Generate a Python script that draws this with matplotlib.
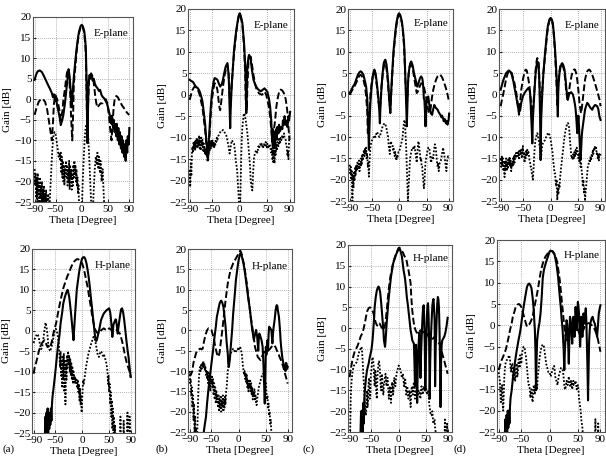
import numpy as np
import matplotlib
matplotlib.use("Agg")
import matplotlib.pyplot as plt

nan = float("nan")

# ---------------- data: (theta [deg], gain [dB]) ----------------
# solid = simulated co-pol, dashed = measured co-pol, dotted = cross-pol
a_e_solid = [(-90,4.7),(-87,6),(-84,6.8),(-80,7),(-76,6.6),(-72,5.6),(-68,4.5),(-64,3.4),(-60,2.4),(-57,1.5),(-55,0.5),(-53,1.2),(-51,-0.5),(-49,0.3),(-47,-1.5),(-45,-2.6),(-42,-4.5),(-40,-6.3),(-37,-5),(-35,-3.8),(-32,-1),(-30,1.4),(-27,5),(-25,7.3),(-23,5.5),(-21,2),(-20,-0.5),(-19,-2),(-17,2),(-15,5.5),(-12,9.5),(-10,12),(-7,15),(-5,16.5),(-2,17.8),(0,18.1),(2,17.8),(5,16.5),(7,14),(8,12),(9,6),(10,-2),(11,-10.5),(12,-3),(13,3.9),(15,5.9),(17,5),(19,5.8),(21,4.5),(23,5),(25,3.9),(27,3.2),(30,2.7),(33,2),(35,2.3),(38,1),(40,0.6),(43,0.2),(45,-0.2),(48,-1),(50,-1.8),(53,-3.5),(55,-4.5),(57,-6),(58,-4),(60,-7),(61,-5),(63,-8),(64,-6),(66,-9),(67,-6),(69,-10),(70,-7),(72,-11),(73,-8),(75,-12),(76,-9),(78,-13),(79,-10),(81,-14),(82,-11),(84,-15),(85,-10),(87,-13),(88,-9),(90,-11),(91,-7)]
a_e_dashed = [(-90,-3.8),(-86,-2),(-82,-0.6),(-78,0),(-74,0),(-70,-0.6),(-66,-2.5),(-63,-5),(-60,-7.5),(-57,-10),(-55,-6),(-53,-1),(-50,1),(-47,0),(-45,-1),(-42,-3),(-40,-5),(-37,-3),(-35,-0.2),(-32,2.5),(-30,4.7),(-28,6.5),(-26,7.1),(-24,5.5),(-22,1.4),(-20,-5),(-18,-10),(-16,-2),(-15,3.9),(-12,8),(-10,11.2),(-7,14.5),(-5,16.1),(-2,17.6),(0,17.9),(2,17.6),(5,16.1),(7,13),(8,10.4),(9,4),(10,-4),(11,-10.7),(12,-2),(14,4.7),(16,5.8),(18,6.3),(20,5.8),(22,5.1),(24,3),(26,0.6),(28,-1),(30,-2),(33,-1.5),(36,-1),(40,-1),(43,-0.5),(46,0),(49,-1),(52,-4),(55,-8),(57,-10),(59,-6),(61,-2),(63,0),(66,0.8),(69,0.5),(73,-0.5),(77,-1.5),(81,-2.2),(85,-3),(88,-3.5),(91,-3.8)]
a_e_dotted = [(-90,-17),(-89,-21),(-88,-18),(-87,-24),(-86,-19),(-85,-26),(-84,-18),(-83,-23),(-82,-20),(-81,-27),(-80,-19),(-79,-24),(-78,-21),(-77,-28),(-76,-20),(-75,-25),(-74,-22),(-73,-28),(-72,-21),(-71,-26),(-70,-23),(-69,-28),(-68,-22),(-67,-27),(-66,-24),(-65,-28),(-64,-23),(-63,-27),(-62,-28),(-61,-25),(-60,-22),(-58,-17),(-56,-12),(-54,-9),(-52,-8),(-50,-8.5),(-48,-10),(-46,-12),(-44,-14),(-42,-13),(-41,-15),(-40,-13),(-39,-18),(-38,-14),(-37,-19),(-36,-15),(-35,-20),(-34,-16),(-33,-21),(-32,-17),(-31,-18),(-30,-15),(-29,-19),(-28,-16),(-27,-21),(-26,-17),(-25,-20),(-24,-15),(-23,-22),(-22,-16),(-21,-19),(-20,-17),(-19,-22),(-18,-18),(-17,-21),(-16,-16),(-15,-19),(-14,-15),(-13,-18),(-12,-16),(-11,-20),(-10,-17),(-9,-21),(-8,-19),(-7,-23),(-6,-21),(-5,-26),(-4,-30),(0,-28),(2,-20),(4,-14),(6,-9),(8,-6.5),(10,-6),(12,-8),(14,-13),(16,-19),(18,-25),(19,-30),(21,-28),(23,-22),(25,-17),(27,-14),(29,-16),(30,-13),(32,-17),(33,-14),(35,-18),(36,-15),(38,-20),(40,-17),(42,-23),(44,-28),(46,-30)]

b_e_solid = [(-90,3.5),(-87,3.2),(-84,3),(-81,2.3),(-78,1.8),(-75,1.5),(-72,0.8),(-70,0),(-67,-1.5),(-65,-3.6),(-62,-7),(-60,-10.6),(-58,-13),(-57,-15.3),(-56,-12),(-54,-7.5),(-52,-3),(-50,0.3),(-47,3),(-45,3.9),(-42,3.7),(-40,3.5),(-37,2.5),(-35,1.9),(-32,2.5),(-30,3.5),(-27,5.5),(-25,6.6),(-22,7.4),(-20,5),(-19,1.9),(-18,-3),(-17,-7.8),(-16,-3),(-14,2.7),(-12,6.5),(-10,10.5),(-7,14),(-5,15.9),(-2,18.3),(0,19),(2,18.5),(5,16.7),(8,12),(10,7),(11,3.5),(12,-4.3),(13,1),(14,6.6),(16,8.8),(17,9.3),(19,8.8),(20,8.1),(22,6),(25,3.5),(28,2.4),(30,1.9),(33,1.3),(35,1.1),(38,0.8),(40,1),(43,1.3),(45,1.5),(48,1),(50,0.7),(53,-1),(55,-2.8),(57,-6),(58,-9),(59,-11),(60,-8),(61,-12.5),(62,-10),(63,-12),(64,-8.5),(65,-10),(66,-8),(67,-10.5),(68,-7.5),(70,-9),(71,-7),(73,-8.5),(75,-7.5),(77,-8),(78,-6),(80,-7),(81,-5),(83,-7),(85,-6),(86,-7.5),(88,-5),(89,-6),(91,-4)]
b_e_dashed = [(-90,-1.2),(-87,0.3),(-85,1.1),(-82,1.8),(-80,1.9),(-77,1.6),(-75,1.1),(-72,0),(-70,-1.2),(-67,-3),(-65,-5.1),(-62,-8.5),(-60,-11.4),(-58,-13.5),(-57,-14.5),(-55,-11.5),(-54,-9),(-52,-4.5),(-50,-1.2),(-47,1.5),(-45,2.7),(-42,2.2),(-40,1.1),(-38,-1.2),(-36,-3.2),(-35,-3.6),(-33,-1.5),(-30,1.9),(-27,4.5),(-25,5.8),(-23,6.8),(-22,7),(-20,5),(-19,2.7),(-18,-0.5),(-17,-3.6),(-16,-0.5),(-14,2.7),(-12,6.5),(-10,9.7),(-7,13.5),(-5,15.6),(-2,18),(0,18.7),(2,18.2),(5,16.3),(8,11.3),(10,5),(11,-1.2),(13,-3.6),(14,2),(16,7.8),(18,8.6),(20,8.9),(22,7.3),(25,4.6),(28,2.5),(30,1.5),(35,0.3),(40,0),(43,0.3),(45,0.7),(48,0),(50,-1.2),(53,-3),(55,-5.1),(57,-8),(59,-11),(60,-13.7),(61,-11),(62,-8),(64,-5.9),(66,-3),(68,-1.2),(70,0),(72,1),(74,1.2),(76,1.1),(78,0.8),(80,0.3),(83,-1),(85,-2.8),(87,-5),(88,-7.5),(90,-10.6)]
b_e_dotted = [(-90,-17.6),(-89,-21.5),(-88,-16),(-87,-19),(-86,-14),(-85,-12.1),(-84,-13.5),(-83,-11),(-82,-12.5),(-81,-11),(-80,-13),(-79,-10.5),(-78,-12),(-77,-10),(-76,-12.5),(-75,-10.6),(-74,-12),(-73,-9.5),(-72,-12.5),(-71,-10),(-70,-13),(-69,-10),(-68,-12),(-67,-10.5),(-66,-13),(-65,-11),(-64,-13.5),(-63,-12),(-62,-14),(-61,-12.5),(-60,-14),(-59,-13),(-58,-15.3),(-57,-12.5),(-56,-14),(-55,-12),(-54,-13),(-53,-11),(-52,-12.5),(-51,-10.6),(-50,-12),(-49,-10.5),(-48,-12),(-47,-11),(-46,-12.5),(-45,-11.4),(-44,-12),(-43,-10.5),(-42,-11),(-41,-10),(-40,-10.5),(-38,-9.5),(-36,-9),(-34,-8.5),(-32,-8.5),(-30,-8.2),(-28,-8.6),(-26,-9),(-24,-9.5),(-22,-10.6),(-20,-12),(-18,-13.7),(-16,-12),(-14,-10.6),(-12,-11),(-10,-11.4),(-8,-13.5),(-7,-15.3),(-5,-17),(-4,-18.4),(-3,-21),(-2,-23),(-1,-26),(0,-30),(1,-26),(2,-20),(3,-14),(4,-10),(5,-7.5),(7,-5),(8,-4.3),(9,-4.5),(11,-5.9),(13,-8),(14,-9),(16,-12),(17,-13.7),(19,-17),(20,-20),(22,-22),(23,-22.3),(24,-19),(26,-14.5),(28,-13.5),(30,-12.9),(32,-13.5),(34,-12),(35,-12.5),(37,-11.5),(39,-12),(40,-11.4),(42,-12.5),(44,-11.5),(45,-12.1),(47,-11),(49,-12.5),(50,-11.4),(52,-12.5),(54,-11.5),(55,-12.1),(57,-13.5),(58,-12.5),(59,-15),(60,-14.5),(61,-16),(62,-13),(63,-16),(64,-12),(65,-14),(66,-11.5),(67,-13),(68,-11),(70,-12),(71,-10),(72,-11.5),(74,-10),(75,-10.6),(77,-9.5),(78,-10),(80,-9),(81,-10),(83,-10.5),(84,-12),(85,-12.1),(86,-14),(87,-13),(88,-15),(89,-11),(90,-9)]

c_e_solid = [(-90,0.3),(-87,1),(-84,1.8),(-81,2.4),(-78,3.5),(-75,4.6),(-72,5.2),(-70,5.4),(-68,5.2),(-65,4.6),(-62,3),(-60,1.8),(-58,-1),(-57,-4.4),(-56,-8),(-55,-13),(-54,-8),(-53,-4),(-52,-1.5),(-50,2),(-48,4.2),(-46,5.5),(-45,5.8),(-43,5),(-42,4.2),(-40,2),(-38,-0.5),(-36,-4),(-35,-6.8),(-34,-3),(-32,1.8),(-30,5),(-28,7.3),(-26,8),(-25,8.1),(-23,7),(-22,5.8),(-20,3),(-18,-1.3),(-17,-3),(-16,-4.4),(-15,-1),(-13,4.2),(-11,8.5),(-10,10.5),(-7,14.5),(-5,16.7),(-2,18.6),(0,19),(2,18.6),(5,17.1),(7,15),(9,12),(10,9),(11,5),(12,1.1),(13,-3),(14,-7.5),(15,-3),(16,1.8),(17,4.5),(19,6.5),(20,7.2),(22,7.7),(24,7),(25,6.5),(27,5),(30,3.4),(32,2.3),(33,1.8),(35,2.5),(36,3),(38,3.8),(40,4.2),(42,3.8),(43,3),(44,1.5),(45,-1),(46,-1.3),(47,-4),(48,-7.5),(49,-4),(50,-1.3),(52,-0.8),(53,-0.5),(54,-1.5),(55,-2.5),(56,-3.6),(58,-4.5),(60,-4.8),(62,-3.5),(64,-2.5),(65,-2.8),(67,-3.2),(70,-3.6),(72,-4.2),(75,-4.8),(77,-5.4),(78,-5),(80,-5.6),(81,-6.3),(83,-5.8),(85,-6.8),(86,-6.2),(88,-7.1),(89,-6.5),(90,-6),(91,-4.5)]
c_e_dashed = [(-90,-0.1),(-87,0.6),(-85,1.1),(-82,1.6),(-80,2.2),(-77,3),(-75,3.8),(-72,4.4),(-70,4.6),(-68,4.3),(-65,3.4),(-62,1.8),(-60,-0.5),(-58,-4),(-57,-9.1),(-56,-8),(-55,-6),(-53,-2),(-52,0.3),(-50,2.5),(-48,4.2),(-46,5.2),(-45,5.4),(-43,4.5),(-42,3.4),(-40,1.5),(-38,-1.3),(-36,-3),(-35,-3.6),(-34,-2),(-32,1.8),(-30,4.5),(-28,6.5),(-26,7.2),(-25,7.3),(-23,6),(-22,5),(-20,2),(-18,-1.3),(-16,-3.6),(-15,-1),(-13,3.4),(-11,7.5),(-10,9.7),(-7,13.8),(-5,16),(-2,18.2),(0,18.7),(2,18.3),(5,16.7),(7,14.5),(9,11.2),(10,8),(11,5),(12,1.8),(13,-0.5),(14,-2.9),(15,-0.5),(16,2.6),(18,5.5),(20,6.9),(22,6.9),(24,6.5),(26,5),(28,3.4),(30,1.8),(32,0.3),(34,0.6),(35,1.1),(38,2),(40,2.6),(43,2.4),(45,1.8),(48,0),(50,-1.3),(52,-3),(54,-4.4),(56,-4),(57,-3.6),(59,-1.5),(60,-0.5),(62,1),(65,2.6),(68,3.7),(70,4.2),(73,4.5),(75,4.6),(78,4),(80,3.4),(83,2.3),(85,1.5),(88,0),(90,-1.3)]
c_e_dotted = [(-90,-16.5),(-89,-18.5),(-88,-17),(-87,-20),(-86,-18),(-85,-25),(-84,-19),(-83,-22),(-82,-18),(-81,-20),(-80,-17),(-79,-19),(-78,-16.5),(-77,-18),(-76,-16),(-75,-16.3),(-74,-17.5),(-73,-15.5),(-72,-18),(-71,-16),(-70,-17),(-69,-15),(-68,-16.5),(-67,-14),(-66,-15.5),(-65,-14),(-64,-13),(-63,-14.5),(-62,-12.5),(-61,-14),(-60,-12.5),(-59,-15),(-58,-14),(-57,-17),(-56,-16),(-55,-19.3),(-54,-16),(-53,-14),(-52,-12),(-50,-11),(-48,-10.4),(-46,-10),(-45,-9.6),(-43,-10),(-41,-9),(-40,-8.8),(-38,-9.5),(-36,-10),(-35,-9.8),(-33,-9),(-31,-8),(-30,-7.5),(-28,-7),(-26,-6.8),(-25,-7),(-23,-8),(-21,-9.5),(-20,-10),(-19,-12),(-18,-13),(-17,-14),(-16,-12),(-15,-11),(-14,-11.5),(-12,-12),(-11,-13),(-10,-12.5),(-9,-14),(-8,-14.5),(-7,-13.5),(-6,-15),(-5,-15.5),(-4,-14.5),(-3,-15),(-2,-14),(-1,-13.5),(0,-13.5),(2,-12.5),(3,-12),(5,-11),(6,-10.4),(7,-9),(8,-7.5),(9,-6.5),(10,-6),(11,-7.5),(12,-10),(13,-13),(14,-17),(15,-21),(16,-25),(17,-22),(18,-20),(19,-17),(20,-15),(22,-13.5),(24,-12.5),(25,-12.5),(26,-13),(28,-12),(30,-14),(31,-15),(32,-16),(33,-14),(34,-12.5),(35,-11),(36,-11.7),(37,-13),(38,-14),(39,-15.5),(40,-15),(41,-17),(42,-17),(43,-19),(44,-20),(45,-22),(46,-21),(47,-18),(48,-16),(49,-15),(50,-14.5),(51,-13.5),(52,-13),(53,-12.5),(55,-12.5),(56,-14),(57,-15),(58,-16),(59,-15.5),(60,-14.5),(62,-15),(63,-13.5),(64,-12.5),(65,-11.7),(66,-12),(67,-13),(68,-14.5),(69,-16),(70,-17),(71,-16),(72,-18),(73,-17),(74,-16),(76,-15.5),(78,-14),(80,-12.5),(81,-13.5),(82,-14),(83,-15),(84,-16),(85,-17),(86,-18),(87,-16),(88,-15),(89,-14.5),(90,-15)]

d_e_solid = [(-90,1.1),(-87,2.5),(-85,3.4),(-82,4.4),(-80,5),(-77,5.4),(-75,5.6),(-72,5.2),(-70,4.6),(-67,3),(-65,1.5),(-62,-0.5),(-60,-2.1),(-58,-3.5),(-57,-4.1),(-55,-3.8),(-53,-2),(-50,-0.5),(-47,0.3),(-45,0.7),(-42,1.2),(-40,1.5),(-38,1),(-37,0.3),(-36,-2),(-35,-5.2),(-34,-8),(-33,-11.5),(-32,-6),(-30,-1.2),(-28,3),(-27,5),(-25,7),(-24,7.7),(-22,7.3),(-21,5),(-20,1.8),(-19,-5),(-18,-15.4),(-17,-6),(-15,0.3),(-13,5),(-10,9.7),(-7,13.8),(-5,16),(-2,17.6),(0,17.9),(2,17.6),(4,16.7),(6,14),(8,10.5),(10,6),(11,3.4),(12,-1),(13,-5.2),(14,1.8),(16,5),(18,6.5),(20,7.2),(21,7.3),(23,6.8),(25,5.8),(27,3.5),(28,1.8),(30,-0.5),(31,-1.3),(32,-0.5),(34,0.3),(35,0.3),(37,0.5),(40,0),(42,-1),(44,-2.5),(45,-3.5),(46,-5),(47,-7),(48,-9.1),(49,-7),(50,-5),(51,-7),(52,-10),(53,-12.5),(54,-15.4),(55,-13),(56,-10),(57,-8.5),(58,-7.5),(60,-5.5),(62,-3.6),(64,-2.7),(66,-2),(68,-2.3),(70,-2.8),(72,-3.2),(75,-3.6),(77,-3),(80,-2.5),(82,-2.6),(84,-2.8),(86,-3.5),(88,-5.2),(90,-6)]
d_e_dashed = [(-90,-2.8),(-88,-1.5),(-85,0.3),(-82,2.3),(-80,3.8),(-77,5),(-75,5.4),(-73,5.5),(-70,5),(-68,4),(-65,2.6),(-62,0.5),(-60,-1.3),(-58,-3.5),(-57,-4.8),(-56,-4),(-55,-2),(-53,1),(-50,3.4),(-47,5.2),(-45,5.8),(-43,5.6),(-42,5),(-40,3.5),(-38,1.8),(-36,-1),(-35,-2.8),(-34,-5),(-33,-6.8),(-32,-4),(-30,-0.5),(-28,3.5),(-27,5.8),(-25,8),(-24,8.5),(-22,7.7),(-21,6),(-20,2.6),(-19,-1.5),(-18,-5.2),(-17,-2),(-15,1.1),(-13,5),(-10,8.9),(-7,13.2),(-5,15.6),(-2,17.3),(0,17.6),(2,17.2),(4,16.3),(6,13.5),(8,9.7),(10,4.5),(11,1),(12,-2.5),(13,-1),(14,2.5),(16,5.5),(18,6.9),(20,7.2),(21,7),(23,6.3),(25,5),(27,2.5),(28,0.8),(30,-1),(31,-1.5),(33,0.5),(35,2.5),(38,4.5),(40,5.4),(42,5.8),(44,5.8),(46,5),(48,3.4),(50,1),(52,-2),(54,-3.8),(55,-4.4),(56,-3.5),(58,-1.2),(60,1.2),(62,3.4),(64,4.6),(66,5.4),(68,5.7),(70,5.8),(72,5.4),(75,4.6),(78,3.4),(80,2.6),(83,1.2),(85,0.3),(88,-1.2),(90,-2.8)]
d_e_dotted = [(-90,-15),(-89,-17),(-88,-14.6),(-87,-16.5),(-86,-15),(-85,-18),(-84,-15.5),(-83,-19.4),(-82,-16),(-81,-17.5),(-80,-15),(-79,-18),(-78,-16),(-77,-17.5),(-76,-15),(-75,-16.5),(-74,-14.6),(-73,-17),(-72,-15.5),(-71,-18),(-70,-16),(-69,-17),(-68,-15),(-67,-16.5),(-66,-14.5),(-65,-16),(-64,-14),(-63,-15),(-62,-13.7),(-61,-14.5),(-60,-13.7),(-59,-14.5),(-58,-13.5),(-57,-15),(-56,-13),(-55,-12.9),(-54,-14),(-53,-13),(-52,-15),(-51,-13.5),(-50,-12.1),(-49,-14),(-48,-13.5),(-47,-16),(-46,-14),(-45,-15),(-44,-13),(-43,-14.5),(-42,-13),(-41,-14),(-40,-13.5),(-39,-14.5),(-38,-15.5),(-37,-16),(-36,-17),(-35,-17),(-34,-18.5),(-33,-19),(-32,-20),(-31,-18),(-30,-15.4),(-29,-13),(-28,-11.5),(-27,-10.6),(-26,-10),(-25,-9.5),(-24,-9.1),(-23,-9.5),(-22,-10.5),(-21,-11),(-20,-12),(-19,-13),(-18,-14),(-17,-14.6),(-16,-13),(-15,-12),(-14,-11.5),(-12,-11),(-10,-10.7),(-8,-10),(-6,-9.5),(-5,-9.1),(-4,-9),(-2,-9.5),(0,-10.5),(1,-11.5),(2,-12.5),(3,-13),(4,-14.5),(5,-16),(6,-17),(7,-18.5),(8,-18.5),(9,-20.5),(10,-21.6),(11,-20),(12,-24.8),(13,-22),(14,-23.5),(15,-21),(16,-22),(17,-19.5),(18,-18.5),(19,-17),(20,-16),(21,-14.5),(22,-13.7),(24,-11),(26,-9.1),(28,-7.8),(30,-6.8),(31,-6.7),(32,-7),(33,-7.5),(34,-9),(35,-11),(36,-12.5),(37,-14),(38,-15),(39,-14.5),(40,-15.4),(41,-14),(42,-15),(43,-13.5),(44,-14.5),(45,-13),(46,-14),(47,-12.5),(48,-13),(49,-13.5),(50,-15),(51,-14),(52,-16),(53,-15),(54,-17),(55,-16.2),(56,-18),(57,-19),(58,-21.6),(59,-20),(60,-23),(61,-22),(62,-25),(63,-23),(64,-21.5),(65,-20),(66,-18.5),(67,-17),(68,-16.5),(69,-16),(70,-15.5),(71,-16),(72,-14.5),(73,-15.5),(74,-14),(75,-14.5),(76,-13),(77,-14),(78,-12.5),(79,-13),(80,-12.1),(81,-13),(82,-12.5),(83,-14),(84,-13.5),(85,-15),(86,-14),(87,-15.5),(88,-14),(89,-14.5),(90,-14)]

a_h_solid = [(-70,-30),(-69,-25),(-68,-21),(-67,-27),(-66,-20),(-65,-26),(-64,-19),(-63,-25),(-62,-20),(-61,-24),(-60,-21),(-59,-23),(-58,-19),(-57,-22),(-56,-18),(-55,-16.2),(-53,-14),(-50,-10.5),(-47,-6.5),(-45,-3.9),(-42,-1),(-40,1.8),(-37,4.5),(-35,6.7),(-32,8.3),(-30,9.1),(-28,9.8),(-27,10),(-26,9.6),(-24,8.3),(-22,6),(-20,3.4),(-18,0.5),(-16,-2.3),(-15,0),(-13,4.2),(-11,8),(-10,10),(-7,13),(-5,14.9),(-2,16.8),(0,17.7),(2,18),(4,18),(6,17.5),(8,16.5),(10,15),(12,13.2),(14,11),(16,8.3),(18,6),(20,3.4),(22,1),(24,-1.5),(26,-2.5),(27,-2.3),(28,-1.8),(30,-0.7),(32,0.5),(35,2.6),(38,3.6),(40,4.2),(43,4.7),(45,5),(48,5.3),(50,5.5),(52,4.5),(53,3.4),(55,0.5),(56,-1.5),(57,0),(58,1.5),(60,2.2),(62,2.8),(63,2.6),(65,0.5),(66,-0.7),(67,0.5),(69,2.5),(70,3.4),(72,5.2),(74,5.5),(76,4.5),(78,2.6),(80,0.2),(82,-2.3),(84,-4.5),(86,-6.4),(88,-9),(90,-11.3)]
a_h_dashed = [(-90,-10.5),(-88,-9),(-85,-7.6),(-82,-6),(-80,-4.8),(-77,-3.8),(-75,-3.1),(-72,-2.6),(-70,-2.3),(-68,-2.8),(-66,-3.5),(-64,-4),(-62,-3.5),(-60,-3.1),(-58,-3.5),(-56,-2.5),(-54,-1),(-52,0.1),(-50,1),(-48,2),(-45,4.2),(-42,6.2),(-40,7.5),(-37,9.2),(-35,10.4),(-32,11.6),(-30,12.4),(-27,13.5),(-25,14),(-22,15),(-20,15.7),(-17,16.5),(-15,16.9),(-12,17.3),(-10,17.5),(-7,17.5),(-5,17.3),(-2,16.9),(0,16.5),(3,15.2),(5,14),(8,12),(10,10.8),(13,8.3),(15,6.7),(18,4.2),(20,2.6),(23,0.8),(25,0.1),(28,-0.5),(30,-0.7),(33,-0.2),(35,0.1),(40,0.6),(45,0.1),(50,0.6),(55,0.1),(60,0.6),(65,0.1),(70,-0.7),(73,-2),(75,-3.1),(78,-5),(80,-6.4),(83,-8),(85,-8.8),(88,-10),(90,-11.3)]
a_h_dotted = [(-90,-3),(-88,-2),(-86,-1.5),(-84,-0.8),(-82,-1),(-80,-2),(-78,-3.5),(-76,-4.5),(-74,-4),(-72,-2),(-70,0),(-68,2),(-67,1.5),(-65,0),(-63,-3),(-61,-4.5),(-59,-5),(-57,-4),(-55,-3),(-53,-1.5),(-51,0),(-49,0.5),(-47,0),(-45,-1.5),(-43,-3.5),(-42,-6),(-41,-9),(-40,-5),(-39,-11),(-38,-7),(-37,-14),(-36,-6),(-35,-12),(-34,-5.5),(-33,-15),(-32,-7),(-31,-18),(-30,-8),(-29,-12),(-28,-6),(-27,-9),(-26,-5),(-25,-8),(-24,-6),(-23,-10),(-22,-7),(-21,-11),(-20,-8),(-19,-12),(-18,-9),(-17,-13),(-16,-10),(-15,-12),(-14,-11),(-13,-13),(-12,-11.5),(-11,-12.5),(-10,-12),(-9,-14),(-8,-12),(-7,-15),(-6,-13),(-5,-17),(-4,-14),(-3,-18),(-2,-16),(-1,-20),(0,-17),(1,-14),(2,-12),(3,-13),(5,-11),(7,-9),(9,-7.5),(11,-6),(13,-5),(15,-4),(17,-3),(19,-2.3),(21,-1.5),(23,-1.8),(25,-3),(27,-4.5),(29,-6),(31,-6.4),(33,-5.5),(35,-5),(37,-5.5),(39,-6.4),(41,-6),(43,-7),(45,-8),(47,-10),(48,-13),(49,-11),(50,-15),(51,-13),(52,-18),(53,-15),(54,-21),(55,-17),(56,-24),(57,-19),(58,-26),(59,-21),(60,-30),(61,-23),(62,-30),(63,nan),(70,-30),(71,-21),(72,-30),(75,nan),(76,-30),(77,-22),(78,-30),(82,nan),(83,-30),(84,-20),(85,-30),(86,nan),(87,-30),(88,-21),(89,-30)]

b_h_solid = [(-65,-30),(-64,-25),(-62,-23),(-60,-21.3),(-58,-18),(-55,-13.9),(-52,-10.5),(-50,-8.2),(-47,-5),(-45,-2.4),(-42,0.8),(-40,3.3),(-37,5.3),(-35,6.6),(-33,7.2),(-32,7.3),(-30,6.8),(-28,5.8),(-26,3.5),(-24,0.9),(-22,-3),(-20,-5.7),(-19,-8.2),(-18,-9),(-16,-7),(-15,-4.9),(-12,0),(-10,4.2),(-7,9),(-5,12.4),(-2,15.5),(0,17.3),(2,18.5),(3,18.9),(5,18.6),(6,18.1),(8,17),(10,15.6),(12,13.8),(15,10.7),(18,7.5),(20,5.8),(22,3.5),(25,0.1),(27,-1.5),(28,-2.4),(30,-1),(32,0.1),(34,-1.5),(35,-3.2),(36,-5),(37,-2),(38,-0.8),(40,-1.5),(42,-2.4),(44,-4),(45,-6.5),(46,-10),(47,-14),(48,-18),(49,-12),(50,-4.1),(51,-6),(52,-3.5),(53,-2.4),(54,-5),(55,-1),(56,0.9),(58,0.5),(60,0.1),(61,-1.5),(62,-3.2),(63,-1),(64,0.5),(66,2.5),(68,5),(69,5.8),(70,6.2),(71,6),(72,5),(74,3.3),(76,0),(77,-2.4),(78,-4),(80,-6.5),(82,-8),(84,-9),(85,-8.5),(86,-10),(87,-8),(88,-8.2),(89,-9.5),(90,-9)]
b_h_dashed = [(-90,-10.6),(-88,-11),(-85,-10),(-83,-8),(-80,-6.5),(-78,-5.5),(-75,-4.9),(-72,-4.6),(-70,-4.5),(-68,-4.7),(-66,-4.5),(-64,-3),(-62,-1.8),(-60,-0.8),(-58,0),(-56,0.4),(-55,0.5),(-53,0.4),(-50,0.1),(-48,-0.8),(-45,-2.4),(-43,-4),(-40,-5.7),(-38,-6.3),(-37,-6.5),(-35,-5.5),(-33,-3.2),(-30,0),(-28,2.5),(-26,5),(-24,7.4),(-22,9.5),(-20,11.5),(-17,13.5),(-15,14.8),(-12,15.8),(-10,16.5),(-7,17.2),(-5,17.7),(-2,18.4),(0,18.9),(2,19.3),(3,19.6),(5,19),(6,18.5),(8,17.3),(10,16.1),(12,14.3),(15,11.5),(18,8),(20,5.8),(22,3.5),(25,0.9),(28,-2),(30,-4.1),(33,-5.5),(35,-6.5),(38,-7),(40,-7.3),(43,-6.5),(45,-5.7),(48,-5.2),(50,-4.9),(53,-4.9),(55,-4.9),(58,-4.5),(60,-4.1),(63,-3.8),(65,-3.6),(68,-4.2),(70,-4.9),(73,-5.7),(75,-6.5),(78,-7.4),(80,-8.2),(83,-9.5),(85,-10.6),(88,-12),(90,-13.1)]
b_h_dotted = [(-90,-10),(-89,-13),(-88,-12),(-87,-16),(-86,-14),(-85,-19),(-84,-16),(-83,-22),(-82,-18),(-81,-25),(-80,-21),(-79,-30),(-78,-24),(-77,-30),(-76,-25),(-75,-20),(-74,-15),(-73,-12),(-72,-10),(-71,-9),(-70,-10),(-69,-8.5),(-68,-9.5),(-67,-8),(-66,-9),(-65,-7.5),(-64,-9),(-63,-8),(-62,-10),(-61,-9),(-60,-11),(-59,-10),(-58,-12),(-57,-10),(-56,-13),(-55,-10.5),(-54,-14),(-53,-11),(-52,-15),(-51,-12),(-50,-13),(-49,-11),(-48,-14),(-47,-12),(-46,-16),(-45,-13),(-44,-17),(-43,-14),(-42,-18),(-41,-15),(-40,-17),(-39,-16),(-38,-19),(-37,-16),(-36,-20),(-35,-17),(-34,-19),(-33,-16),(-32,-20),(-31,-17),(-30,-19),(-29,-16),(-28,-20),(-27,-17),(-26,-19),(-25,-16),(-24,-18),(-23,-15),(-22,-14),(-21,-12),(-20,-10),(-18,-8),(-16,-6.5),(-14,-5.5),(-12,-5),(-10,-4.5),(-8,-5),(-6,-5.5),(-4,-5),(-2,-4.5),(0,-5),(2,-4),(4,-4.5),(6,-6),(8,-9),(9,-9.8),(10,-11),(11,-10),(12,-12),(13,-10.5),(14,-13),(15,-11),(16,-14),(17,-12),(18,-15),(19,-13),(20,-14),(21,-12),(22,-15),(23,-13),(24,-16),(25,-14),(26,-17),(27,-15),(28,-16),(29,-14.5),(30,-17),(31,-16),(32,-18),(33,-18.4),(34,-17),(35,-16),(37,-14),(39,-13),(41,-12),(43,-11),(45,-10.6),(47,-11),(48,-12),(49,-14),(50,-13),(51,-15),(52,-17),(53,-16),(54,-19),(55,-18),(56,-21),(57,-20),(58,-23),(59,-22),(60,-25),(61,-30)]

c_h_solid = [(-71,-30),(-70,-25),(-69,-20),(-68,-26),(-67,-19.8),(-66,-25),(-65,-18),(-64,-23),(-63,-17),(-62,-15),(-60,-12),(-58,-10.1),(-56,-9),(-55,-8.5),(-53,-7),(-50,-5.3),(-48,-3),(-47,-1.3),(-45,2.5),(-44,5.1),(-42,7.5),(-40,9.1),(-38,9.8),(-37,10),(-36,9.8),(-34,8.7),(-32,6),(-30,2.7),(-28,-0.5),(-27,-2.9),(-25,-4.5),(-24,-3),(-22,1.1),(-20,4.5),(-18,7.5),(-16,10),(-14,12.4),(-12,14),(-10,15.6),(-7,16.8),(-5,17.6),(-2,18.5),(0,19),(2,18.9),(3,18.8),(5,17.8),(6,17.2),(8,15),(9,14),(11,12.5),(12,11.6),(14,9),(15,7.5),(17,5.5),(18,4.3),(20,1.9),(22,-0.5),(24,-2),(25,-2.9),(27,-3.5),(28,-3.7),(29,-8),(30,-14),(31,-8),(32,-4),(33,-10),(34,-18),(35,-10),(36,-6),(37,-3),(38,-1),(39,-5),(40,-12),(41,-7),(42,-3),(43,0),(44,3),(45,5),(46,5.5),(47,2),(48,-4),(49,-15),(50,-8),(51,-2),(52,3),(53,5.5),(54,6),(55,3),(56,-3),(57,-17),(58,-8),(59,-3),(60,0),(61,3),(62,5.5),(63,6.5),(64,7),(65,5),(66,2),(67,-14),(68,-5),(69,-1),(70,3),(71,6),(72,7.5),(73,7),(74,5),(75,0),(76,-8),(77,-19),(78,-8),(79,-4),(80,-3),(82,-2.5),(84,-2),(86,-1),(88,0.5),(90,2.5)]
c_h_dashed = [(-90,-11.8),(-88,-10),(-85,-7.7),(-82,-6.2),(-80,-5.3),(-77,-4.7),(-75,-4.1),(-72,-3),(-70,-2.1),(-67,-1.3),(-65,-0.5),(-62,1.2),(-60,2.7),(-58,4),(-55,4.8),(-53,5),(-51,4.8),(-48,4.2),(-46,3.5),(-45,2.7),(-42,1.3),(-40,0.7),(-38,0.5),(-36,0.8),(-35,1.1),(-33,0.6),(-32,0.3),(-30,0),(-28,-0.5),(-26,0),(-24,1.5),(-22,4),(-20,7),(-18,9.5),(-15,12.5),(-12,14.5),(-10,15.8),(-7,17),(-5,17.8),(-2,18.7),(0,19.3),(2,19.3),(4,18.9),(6,18.5),(8,18.2),(10,17.5),(12,17),(14,16.5),(15,16),(17,14.5),(18,14),(20,12.5),(22,10.8),(23,8),(24,6),(25,4.3),(27,2),(28,1.1),(30,0),(31,-0.5),(33,-1),(35,-1.3),(38,-1),(40,-0.5),(43,-1),(45,-1),(48,-0.8),(50,-1),(53,-1.5),(55,-2.1),(58,-2.5),(60,-2.9),(63,-2.5),(65,-2.2),(68,-2.6),(70,-3),(73,-3.5),(75,-3.7),(78,-5),(80,-6.1),(83,-7.5),(85,-8.5),(88,-10),(90,-11)]
c_h_dotted = [(-90,-30),(-89,-25),(-88,-17),(-87,-14),(-86,-12),(-85,-11),(-84,-10),(-83,-9.5),(-82,-9),(-80,-8.7),(-79,-8.5),(-77,-8.2),(-76,-8),(-75,-7),(-73,-6),(-72,-5.5),(-70,-5),(-69,-4.7),(-68,-4.5),(-67,-6),(-66,-8),(-65,-11),(-64,-13),(-63,-16),(-62,-18),(-61,-20),(-60,-21),(-59,-17),(-58,-15),(-57,-19),(-56,-17),(-55,-13),(-54,-12),(-53,-17),(-52,-16),(-51,-11),(-50,-10),(-49,-8),(-48,-7),(-47,-7.5),(-46,-9),(-45,-12),(-44,-14),(-43,-10),(-42,-11),(-41,-16),(-40,-17),(-39,-12),(-38,-10),(-37,-8.5),(-36,-8),(-35,-9),(-34,-11),(-33,-14),(-32,-15),(-31,-11),(-30,-12),(-29,-15),(-28,-16),(-27,-13),(-26,-13),(-25,-11.5),(-24,-11),(-23,-13),(-22,-14),(-21,-12),(-20,-12),(-19,-15),(-18,-17),(-17,-15),(-16,-14),(-15,-16),(-14,-18),(-13,-15),(-12,-13),(-11,-14),(-10,-16),(-9,-13.5),(-8,-12),(-7,-13),(-6,-14),(-5,-12.5),(-4,-11),(-3,-10.5),(-2,-10),(-1,-9.5),(0,-9),(1,-9.2),(2,-9.5),(3,-10),(4,-10.5),(5,-11),(6,-12),(7,-11.5),(8,-11),(9,-12.5),(10,-14),(11,-13),(12,-12),(13,-14),(14,-16),(15,-15),(16,-14),(17,-16),(18,-17),(19,-16),(20,-15),(21,-17),(22,-19),(23,-16),(24,-14),(25,-15),(26,-16),(27,-14),(28,-13),(29,-15),(30,-17),(31,-16),(32,-15),(33,-14),(34,-14),(35,-15),(36,-16),(37,-15),(38,-15),(39,-16),(40,-17),(41,-15),(42,-14),(43,-15),(44,-16),(45,-15),(46,-14),(47,-14.5),(48,-15),(49,-14),(50,-14),(51,-15),(52,-16),(53,-15.5),(54,-15),(55,-16),(56,-18),(57,-19),(58,-20),(59,-21),(60,-21),(61,-20.5),(62,-20),(63,-22),(64,-23),(65,-22),(66,-22),(67,-24),(68,-25),(69,-30),(82,nan),(84,-30),(85,-22),(86,-30),(87,nan),(88,-30),(89,-23),(90,-30)]

d_h_solid = [(-80,-30),(-79,-25),(-78,-22),(-77,-26),(-76,-21),(-75,-25),(-74,-20),(-73,-24),(-72,-20),(-71,-23),(-70,-19),(-69,-17),(-67,-15.2),(-65,-12.5),(-63,-10.5),(-60,-7.5),(-58,-5.8),(-55,-3.5),(-52,-1.5),(-50,0.4),(-48,2.5),(-45,5.1),(-42,7.5),(-40,9),(-38,9.6),(-36,9.8),(-34,9.4),(-32,8.7),(-30,6.5),(-28,3.6),(-27,1),(-26,-1.1),(-25,-6),(-24,-15.2),(-23,-8),(-22,-3.5),(-20,-1),(-18,0.5),(-16,2.8),(-14,6.5),(-13,9),(-12,11.2),(-10,13),(-8,14),(-6,14.9),(-3,16.1),(0,17.3),(2,17.5),(4,17.4),(6,17.3),(9,16.5),(12,14.5),(15,11.4),(18,6.7),(20,4),(21,2),(23,-1),(24,-3.5),(25,-6),(26,-10.5),(27,-6),(28,-3.5),(29,-1),(30,1.2),(31,0.5),(32,-1.1),(33,-5),(34,-9),(35,-3),(36,2),(37,1.5),(38,0.4),(39,-2),(40,-4.3),(41,-1),(42,2),(43,0),(44,-2.7),(45,1),(46,4.3),(47,2),(48,-1.1),(49,2),(50,5.5),(51,4.5),(52,2.8),(53,-1),(54,-5),(55,-2),(56,2),(57,0),(58,-2.7),(59,0),(60,2.8),(61,2),(62,0.4),(63,2.5),(64,4),(65,1),(66,-4.3),(67,-10),(68,-17.6),(69,-10),(70,-3.5),(71,-1),(72,0.4),(74,1.5),(76,2),(78,1),(80,0.4),(82,-1),(84,-2.7),(85,-1),(87,2.8),(89,4.2),(90,4.7)]
d_h_dashed = [(-90,-10.5),(-88,-9.5),(-85,-8.2),(-82,-7.3),(-80,-6.6),(-77,-5.5),(-75,-4.3),(-72,-2.5),(-70,-1.1),(-67,0.5),(-65,2),(-62,3.3),(-60,4.3),(-57,4.8),(-55,5),(-53,4.9),(-50,4.3),(-48,3.3),(-45,2),(-42,0.5),(-40,-0.3),(-38,0),(-35,0.4),(-33,1),(-30,2),(-28,3.5),(-25,5.5),(-22,7.5),(-20,9),(-17,11.5),(-15,13),(-12,14.5),(-10,15.3),(-7,16.2),(-5,16.5),(-2,17.2),(0,17.5),(3,17.4),(5,17.3),(8,16.8),(10,16.5),(12,15.5),(14,14.5),(16,12.5),(18,10.6),(20,8),(22,5.1),(24,2.5),(26,-0.3),(28,-2.5),(30,-4),(32,-4),(34,-3),(36,-2),(38,-1.5),(40,-2.5),(42,-2),(44,-1),(46,0),(48,-0.5),(50,-1),(53,-2),(55,-2),(58,-1.5),(60,-1),(63,0),(65,0.3),(68,0.5),(70,0.5),(73,0.2),(75,0),(78,-0.5),(80,-1),(83,-2),(85,-3),(87,-4.3),(90,-6.2)]
d_h_dotted = [(-90,-11),(-89,-12),(-88,-13),(-87,-16),(-86,-18),(-85,-15),(-84,-14),(-83,-18),(-82,-20),(-81,-16),(-80,-12),(-79,-10),(-78,-9),(-77,-8.5),(-75,-8),(-73,-7.5),(-72,-7),(-71,-7.2),(-70,-8),(-69,-10),(-68,-11),(-67,-9),(-66,-9),(-65,-12),(-64,-13),(-63,-10),(-62,-10),(-61,-13),(-60,-12),(-59,-9),(-58,-9),(-57,-12),(-56,-11),(-55,-8),(-54,-8),(-53,-10),(-52,-7),(-51,-7.5),(-50,-9),(-49,-7),(-48,-6),(-47,-5.5),(-46,-5),(-45,-5.2),(-44,-5.5),(-43,-6.5),(-42,-7),(-41,-8.5),(-40,-10),(-39,-11.5),(-38,-13),(-37,-14),(-36,-14),(-35,-15),(-34,-17),(-33,-16),(-32,-15),(-31,-17),(-30,-18),(-29,-16),(-28,-14),(-27,-15),(-26,-16),(-25,-14),(-24,-13),(-23,-14),(-22,-15),(-21,-12),(-20,-11),(-19,-9.5),(-18,-8),(-17,-7),(-16,-6),(-15,-5.5),(-14,-5),(-13,-4.7),(-12,-4.5),(-11,-4.6),(-10,-5),(-9,-6),(-8,-7),(-7,-8),(-6,-9),(-5,-9.5),(-4,-10),(-3,-10.5),(-2,-11),(-1,-11),(0,-11),(1,-11.5),(2,-12),(3,-11.5),(4,-11),(5,-10.5),(6,-10),(7,-9.7),(8,-9.5),(9,-10.5),(10,-12),(11,-12.5),(12,-13),(13,-13.5),(14,-14),(15,-13),(16,-12),(17,-11.5),(18,-11),(19,-10.5),(20,-10),(21,-10),(22,-10.2),(23,-10.5),(24,-11),(25,-12.5),(26,-14),(27,-15),(28,-15),(29,-14),(30,-13),(31,-13.5),(32,-14),(33,-13),(34,-12),(35,-13),(36,-14),(37,-14.5),(38,-13),(39,-13.5),(40,-15),(41,-14),(42,-13),(43,-14),(44,-14),(45,-13.5),(46,-13),(47,-14),(48,-15),(49,-14.5),(50,-14),(51,-15),(52,-17),(53,-18),(54,-19),(55,-20),(56,-22),(57,-23),(58,-24),(59,-26),(60,-30),(78,nan),(80,-30),(81,-22),(82,-30),(84,nan),(85,-30),(86,-23),(87,-30)]

panel_letters = ["(a)", "(b)", "(c)", "(d)"]
plane_names = ["E-plane", "H-plane"]
x_ticks = [-90, -50, 0, 50, 90]
y_ticks = [-25, -20, -15, -10, -5, 0, 5, 10, 15, 20]

# ---------------- layout (pixel boxes: left, right, top, bottom) ----------------
W, H = 606, 461
boxes_top = [(33, 133, 17, 202), (188, 294, 9, 202), (348, 453, 9, 201), (499, 605, 9, 201)]
boxes_bot = [(32, 135, 249, 433), (188, 292, 249, 432), (348, 452, 245, 432), (497, 605, 240, 432)]

plt.rcParams['font.family'] = ['Liberation Serif', 'DejaVu Serif']
FS = 8

fig = plt.figure(figsize=(W / 100, H / 100), dpi=100)

top_series = [(a_e_solid, a_e_dashed, a_e_dotted), (b_e_solid, b_e_dashed, b_e_dotted),
              (c_e_solid, c_e_dashed, c_e_dotted), (d_e_solid, d_e_dashed, d_e_dotted)]
bot_series = [(a_h_solid, a_h_dashed, a_h_dotted), (b_h_solid, b_h_dashed, b_h_dotted),
              (c_h_solid, c_h_dashed, c_h_dotted), (d_h_solid, d_h_dashed, d_h_dotted)]


def draw(box, series, label, label_pos):
    L, R, T, B = box
    ax = fig.add_axes([L / W, (H - B) / H, (R - L) / W, (B - T) / H])
    solid, dashed, dotted = series
    d = np.array(dotted, dtype=float)
    ax.plot(d[:, 0], d[:, 1], color='black', lw=1.3, linestyle=(0, (1, 1)), zorder=3)
    s = np.array(dashed, dtype=float)
    ax.plot(s[:, 0], s[:, 1], color='black', lw=1.4, linestyle=(0, (3.5, 1.5)), zorder=4)
    s = np.array(solid, dtype=float)
    ax.plot(s[:, 0], s[:, 1], color='black', lw=1.5, linestyle='-', zorder=5)
    ax.set_xlim(-93, 98)
    ax.set_ylim(-25, 20)
    ax.set_xticks(x_ticks)
    ax.set_yticks(y_ticks)
    ax.tick_params(direction='in', length=2, width=0.6, labelsize=FS)
    ax.tick_params(axis='x', pad=2.5)
    ax.tick_params(axis='y', pad=1.2)
    ax.grid(True, color='#9a9a9a', linestyle=(0, (1, 1.5)), linewidth=0.6)
    for sp in ax.spines.values():
        sp.set_color('#555555')
        sp.set_linewidth(0.8)
    ax.set_xlabel('Theta [Degree]', fontsize=FS, labelpad=1)
    ax.set_ylabel('Gain [dB]', fontsize=FS, labelpad=1.5)
    ax.text(label_pos[0], label_pos[1], label, transform=ax.transAxes,
            ha='right', va='center', fontsize=FS, zorder=6)
    return ax


top_lab = [(0.955, 0.91), (0.945, 0.915), (0.955, 0.925), (0.945, 0.915)]
bot_lab = [(0.955, 0.91), (0.955, 0.905), (0.965, 0.93), (0.955, 0.92)]
for i in range(4):
    draw(boxes_top[i], top_series[i], plane_names[0], top_lab[i])
    draw(boxes_bot[i], bot_series[i], plane_names[1], bot_lab[i])

letter_x = [9, 162, 309, 460]
for lx, lt in zip(letter_x, panel_letters):
    fig.text(lx / W, (H - 449) / H, lt, ha='center', va='center', fontsize=FS)

fig.savefig('out.png', dpi=100)
